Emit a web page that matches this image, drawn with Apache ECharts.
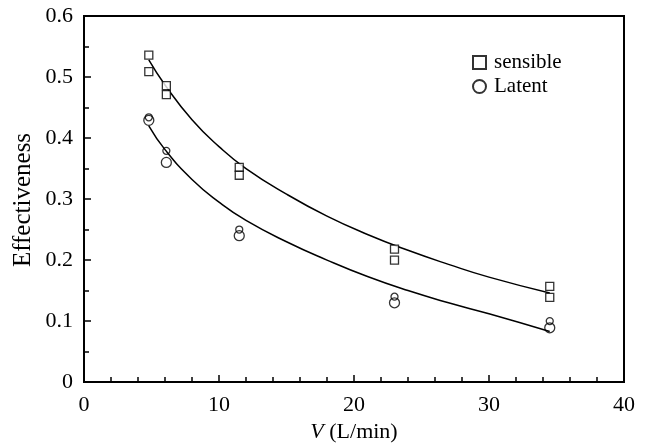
<!DOCTYPE html>
<html>
<head>
<meta charset="utf-8">
<script src="https://cdn.jsdelivr.net/npm/echarts@6/dist/echarts.min.js"></script>
<style>html,body{margin:0;padding:0;background:#fff;}#c{width:649px;height:448px;}</style>
</head>
<body>
<div id="c"></div>
<script>
// Data
var sensibleV = [4.8, 4.8, 6.1, 6.1, 11.5, 11.5, 23, 23, 34.5, 34.5];
var sensibleE = [0.536, 0.509, 0.486, 0.471, 0.352, 0.339, 0.218, 0.200, 0.157, 0.139];
var latentV = [4.8, 6.1, 11.5, 23, 34.5];
var latentSmallE = [0.434, 0.379, 0.250, 0.140, 0.100];
var latentBigE = [0.429, 0.360, 0.240, 0.130, 0.089];
var fitV = [4.8, 6, 8, 10, 12, 15, 18, 21, 24, 27, 30, 34.5];
var sensibleFitE = [0.528, 0.487, 0.430, 0.386, 0.350, 0.308, 0.272, 0.242, 0.216, 0.193, 0.172, 0.146];
var latentFitE = [0.420, 0.381, 0.332, 0.295, 0.265, 0.230, 0.200, 0.173, 0.150, 0.130, 0.112, 0.083];
var xTicks = [0, 10, 20, 30, 40];
var yTicks = [0, 0.1, 0.2, 0.3, 0.4, 0.5, 0.6];

function pairs(xs, ys) { return xs.map(function (x, i) { return [x, ys[i]]; }); }

var FONT = 'Liberation Serif';
var chart = echarts.init(document.getElementById('c'), null, {renderer: 'canvas'});
var mk = {color: '#fff', borderColor: '#000', borderWidth: 1.3};
chart.setOption({
  animation: false,
  backgroundColor: '#fff',
  grid: {left: 84, right: 25, top: 16, bottom: 64, show: true, borderColor: '#000', borderWidth: 2},
  legend: {
    orient: 'vertical', left: 472, top: 52, padding: 0, itemWidth: 13, itemHeight: 13, itemGap: 3,
    data: ['sensible', 'Latent'],
    textStyle: {fontFamily: FONT, fontSize: 21, color: '#000', padding: [0, 0, 0, 3]}
  },
  xAxis: {
    type: 'value', min: 0, max: 40, interval: 10,
    axisLine: {lineStyle: {color: '#000', width: 2}},
    axisTick: {inside: true, length: 7, lineStyle: {color: '#000', width: 1.5}},
    minorTick: {show: true, splitNumber: 5, length: 5, lineStyle: {color: '#000', width: 1.5}},
    splitLine: {show: false},
    axisLabel: {fontFamily: FONT, fontSize: 22, color: '#000', margin: 12,
      formatter: function (v) { return xTicks.indexOf(v) >= 0 ? String(v) : ''; }},
    name: '{i|V} (L/min)', nameLocation: 'middle', nameGap: 36,
    nameTextStyle: {fontFamily: FONT, fontSize: 22, color: '#000',
      rich: {i: {fontFamily: FONT, fontSize: 22, fontStyle: 'italic', color: '#000'}}}
  },
  yAxis: {
    type: 'value', min: 0, max: 0.6, interval: 0.1,
    axisLine: {lineStyle: {color: '#000', width: 2}},
    axisTick: {inside: true, length: 7, lineStyle: {color: '#000', width: 1.5}},
    minorTick: {show: true, splitNumber: 2, length: 5, lineStyle: {color: '#000', width: 1.5}},
    splitLine: {show: false},
    axisLabel: {fontFamily: FONT, fontSize: 22, color: '#000', margin: 11,
      formatter: function (v) {
        for (var k = 0; k < yTicks.length; k++) if (Math.abs(yTicks[k] - v) < 1e-9) return String(yTicks[k]);
        return '';
      }}
  },
  graphic: [{
    type: 'text', x: 23, y: 200, rotation: Math.PI / 2,
    style: {text: 'Effectiveness', fontFamily: FONT, fontSize: 25, fill: '#000', align: 'center', verticalAlign: 'middle'}
  }],
  series: [
    {name: 'sensibleFit', type: 'line', data: pairs(fitV, sensibleFitE), smooth: true, showSymbol: false,
      lineStyle: {color: '#000', width: 1.5}, z: 2},
    {name: 'latentFit', type: 'line', data: pairs(fitV, latentFitE), smooth: true, showSymbol: false,
      lineStyle: {color: '#000', width: 1.5}, z: 2},
    {name: 'sensible', type: 'scatter', symbol: 'rect', symbolSize: 8, data: pairs(sensibleV, sensibleE),
      itemStyle: mk, z: 3},
    {name: 'Latent', type: 'scatter', symbol: 'circle', symbolSize: 10, data: pairs(latentV, latentBigE),
      itemStyle: {color: 'rgba(255,255,255,0)', borderColor: '#000', borderWidth: 1.3}, z: 3},
    {name: 'LatentSmall', type: 'scatter', symbol: 'circle', symbolSize: 7, data: pairs(latentV, latentSmallE),
      itemStyle: {color: 'rgba(255,255,255,0)', borderColor: '#000', borderWidth: 1.3}, z: 3}
  ]
});
</script>
</body>
</html>
